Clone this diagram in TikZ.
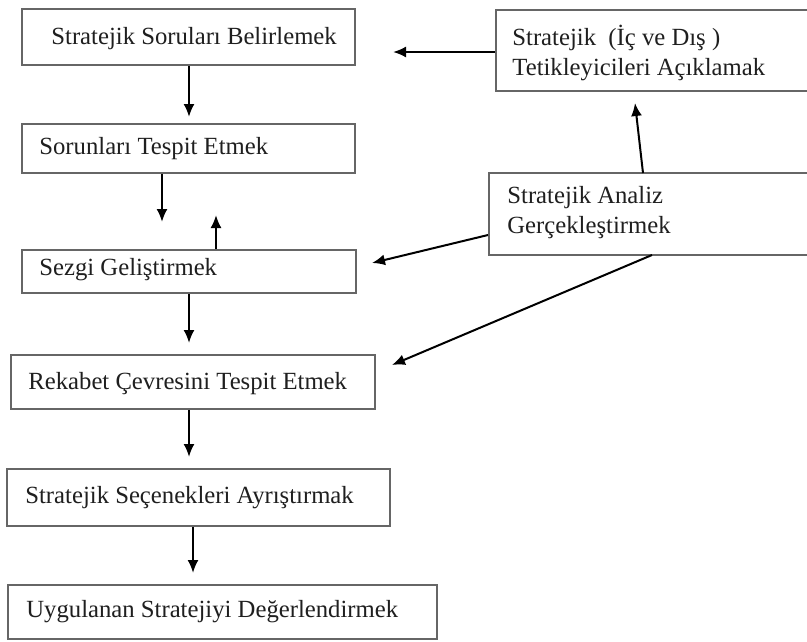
\documentclass[tikz,border=0pt]{standalone}
\usepackage{fontspec}
\setmainfont{Liberation Serif}
\usetikzlibrary{arrows.meta}
\begin{document}
\begin{tikzpicture}[x=1pt,y=-1pt,
  box/.style={draw=black!60,line width=1.6pt,fill=white,inner sep=0pt,rectangle},
  txt/.style={inner sep=0pt,anchor=west,align=left,text=black!88,font=\fontsize{24.7}{30}\selectfont},
  arr/.style={draw=black,line width=2pt,-{Latex[length=13pt,width=11pt]}}]
\useasboundingbox (0,0) rectangle (807,641);
\clip (0,0) rectangle (807,641);
\fill[white] (0,0) rectangle (807,641);
% boxes (x0,y0) to (x1,y1)
\node[box,minimum width=333pt,minimum height=56pt] (b1) at (188.5,37) {};
\node[box,minimum width=324pt,minimum height=81pt] (b2) at (658,50.5) {};
\node[box,minimum width=333pt,minimum height=49pt] (b3) at (188.5,148.5) {};
\node[box,minimum width=331pt,minimum height=82pt] (b4) at (654.5,214) {};
\node[box,minimum width=334pt,minimum height=43pt] (b5) at (189,271.5) {};
\node[box,minimum width=364pt,minimum height=54pt] (b6) at (193,382) {};
\node[box,minimum width=383pt,minimum height=57pt] (b7) at (198.5,497.5) {};
\node[box,minimum width=429pt,minimum height=54pt] (b8) at (222.5,612) {};
% texts
\node[txt] (t1) at ([xshift=30pt,yshift=-2pt]b1.west) {Stratejik Soruları Belirlemek};
\node[txt] (t2) at ([xshift=17pt,yshift=-2.5pt]b2.west) {Stratejik\ \ (İç ve Dış )\\Tetikleyicileri Açıklamak};
\node[txt] (t3) at ([xshift=18pt]b3.west) {Sorunları Tespit Etmek};
\node[txt] (t4) at ([xshift=19pt,yshift=1pt]b4.west) {Stratejik Analiz\\Gerçekleştirmek};
\node[txt] (t5) at ([xshift=18pt,yshift=1.5pt]b5.west) {Sezgi Geliştirmek};
\node[txt] (t6) at ([xshift=18pt,yshift=-2pt]b6.west) {Rekabet Çevresini Tespit Etmek};
\node[txt] (t7) at ([xshift=19pt]b7.west) {Stratejik Seçenekleri Ayrıştırmak};
\node[txt] (t8) at ([xshift=19pt]b8.west) {Uygulanan Stratejiyi Değerlendirmek};
% arrow end points
\coordinate (e21) at (393,52);
\coordinate (e13) at (189,117);
\coordinate (e35) at (162,222);
\coordinate (e53) at (216,215);
\coordinate (e56) at (189,343);
\coordinate (e67) at (189,457);
\coordinate (e78) at (193,573);
\coordinate (s42) at (643,173);
\coordinate (e42) at (635,103);
\coordinate (s45) at (488,235);
\coordinate (e45) at (372,263);
\coordinate (s46) at (652,255);
\coordinate (e46) at (392,365);
% connectors
\draw[arr] (b2.west |- e21) -- (e21);
\draw[arr] (b1.south -| e13) -- (e13);
\draw[arr] (b3.south -| e35) -- (e35);
\draw[arr] (b5.north -| e53) -- (e53);
\draw[arr] (b5.south -| e56) -- (e56);
\draw[arr] (b6.south -| e67) -- (e67);
\draw[arr] (b7.south -| e78) -- (e78);
\draw[arr] (s42) -- (e42);
\draw[arr] (s45) -- (e45);
\draw[arr] (s46) -- (e46);
\end{tikzpicture}
\end{document}
